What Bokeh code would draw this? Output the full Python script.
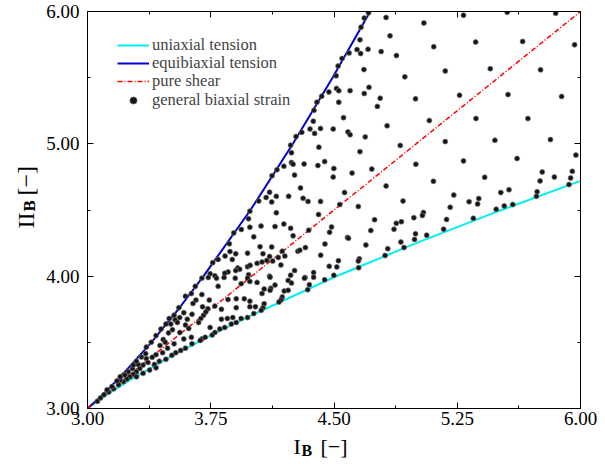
from math import pi
from bokeh.plotting import figure
from bokeh.layouts import row, column
from bokeh.models import (FixedTicker, LinearAxis, Label, Legend, LegendItem, Range1d)
from bokeh.embed import file_html
from bokeh.resources import INLINE

# ---------------- data ----------------
x_ticks = [3.00, 3.75, 4.50, 5.25, 6.00]
x_tick_labels = ["3.00", "3.75", "4.50", "5.25", "6.00"]
x_minor = [3.375, 4.125, 4.875, 5.625]
y_ticks = [3.00, 4.00, 5.00, 6.00]
y_tick_labels = ["3.00", "4.00", "5.00", "6.00"]
y_minor = [3.5, 4.5, 5.5]

# uniaxial tension curve (I_B, II_B)
uni_I = [3.00, 3.10, 3.25, 3.50, 3.75, 4.00, 4.50, 5.00, 5.50, 6.00]
uni_II = [3.00, 3.09, 3.208, 3.389, 3.553, 3.706, 3.992, 4.25, 4.491, 4.72]
# equibiaxial tension curve
equi_I = [3.00, 3.09, 3.208, 3.389, 3.553, 3.706, 3.992, 4.25, 4.491, 4.72]
equi_II = [3.00, 3.10, 3.25, 3.50, 3.75, 4.00, 4.50, 5.00, 5.50, 6.00]
# pure shear
ps_I = [3.00, 6.00]
ps_II = [3.00, 6.00]

# general biaxial strain samples
gb_I = [4.71, 4.817, 4.684, 4.664, 4.841, 4.658, 4.640, 4.662, 4.707, 4.592, 4.787, 4.880,
        4.549, 4.682, 4.525, 4.931, 4.513, 4.515, 4.529, 4.469, 4.598, 4.713, 4.684, 4.425,
        4.529, 4.781, 4.764, 4.996, 4.396, 4.378, 4.558, 4.374, 4.823, 4.304, 4.354, 4.382,
        4.418, 4.495, 4.585, 4.598, 4.690, 4.269,
        5.288, 5.554, 5.849, 5.047, 5.107, 5.362, 5.648, 5.964, 5.177, 5.451, 5.757, 5.264,
        5.559, 5.885, 5.080, 5.364, 5.680, 5.177, 5.479, 5.817,
        4.236, 4.241, 4.408, 4.658, 4.903, 4.241, 4.251, 4.195, 4.318, 4.402, 4.443, 4.499,
        4.495, 4.610, 4.730, 4.260, 4.153, 4.123, 4.296, 4.817, 4.108, 4.087, 4.121, 4.149,
        4.224, 4.312, 4.342, 4.418, 4.564, 4.535, 4.648, 4.920, 4.042, 4.149, 4.406, 4.056,
        4.141, 4.195, 4.236, 4.346, 4.485, 4.473, 4.724, 4.747, 4.879, 4.910, 4.865, 4.986,
        4.996, 4.012, 4.251, 4.582, 4.588, 4.050, 4.121, 4.445, 4.694, 4.827, 4.907, 4.990,
        4.926, 4.068, 4.185, 4.280, 4.292, 4.326, 4.419, 4.201, 4.108, 4.161, 4.091, 4.062,
        4.032, 4.127, 4.177, 4.527, 4.654, 4.648, 4.811, 4.471, 4.517, 4.260, 4.376, 4.324,
        4.236, 4.499, 4.108, 4.650,
        4.998, 5.288, 5.614, 5.972, 5.105, 5.417, 5.767, 5.754, 5.841, 5.950, 5.940, 5.930,
        5.229, 5.515, 5.565, 5.736, 5.732, 5.322, 5.381, 5.374, 5.207, 5.487, 5.536, 5.588,
        5.044, 5.038, 5.185, 5.348, 5.064, 5.167,
        3.988, 3.980, 3.988, 3.936, 3.890, 3.863, 3.867, 3.902, 3.837, 3.881, 3.974, 3.795,
        3.762, 3.914, 3.926, 3.902, 3.974, 3.990, 3.855, 3.835, 3.746, 3.775, 3.980,
        4.032, 4.111, 4.221, 4.241, 4.141, 4.115, 4.111, 4.075, 4.062, 4.197, 4.221, 4.320,
        4.376, 4.350, 4.340, 4.443, 4.022, 4.075, 4.068, 4.185, 4.177, 4.165, 4.012, 4.057,
        3.696, 3.735, 3.785, 3.831, 3.899, 3.974, 3.795, 3.935, 3.988, 3.954, 3.988, 3.905,
        3.855, 3.741, 3.696, 3.660, 3.642, 3.700, 3.732, 3.775, 3.815, 3.905, 3.988, 3.636,
        3.607, 3.586, 3.561, 3.533, 3.507, 3.547, 3.706, 3.720, 3.690, 3.676, 3.596, 3.616,
        3.562, 3.517, 3.493, 3.461, 3.473, 3.441, 3.487, 3.527, 3.586, 3.632, 3.746, 3.815,
        3.851, 3.884, 3.905, 3.805, 3.759, 3.696, 3.636, 3.596, 3.567, 3.537, 3.513, 3.457,
        3.417, 3.394, 3.358, 3.368, 3.338, 3.407, 3.437, 3.477, 3.318, 3.298, 3.279, 3.258,
        3.239, 3.219, 3.189, 3.159, 3.129, 3.298, 3.338, 3.378, 3.417, 3.249, 3.274, 3.308,
        3.219, 3.199, 3.686, 3.716, 3.775, 3.835, 3.875, 3.935, 3.974,
        3.656, 3.596, 3.632, 3.556, 3.527, 3.497, 3.477, 3.447, 3.417, 3.388, 3.358, 3.354,
        3.328, 3.298, 3.279, 3.228, 3.199, 3.179, 3.149, 3.119, 3.100, 3.079, 3.060]
gb_II = [5.99, 5.955, 5.95, 5.881, 5.816, 5.786, 5.712, 5.682, 5.715, 5.687, 5.697, 5.667,
         5.645, 5.561, 5.588, 5.506, 5.514, 5.419, 5.402, 5.392, 5.402, 5.427, 5.380, 5.360,
         5.315, 5.345, 5.283, 5.340, 5.315, 5.253, 5.198, 5.171, 5.136, 5.087, 5.112, 5.079,
         5.116, 5.112, 5.090, 5.069, 5.052, 5.055,
         5.972, 5.995, 5.987, 5.913, 5.734, 5.769, 5.774, 5.749, 5.551, 5.568, 5.559, 5.367,
         5.372, 5.358, 5.176, 5.191, 5.191, 5.017, 5.027, 5.032,
         4.990, 4.933, 4.975, 4.941, 4.988, 4.859, 4.846, 4.831, 4.848, 4.836, 4.866, 4.814,
         4.749, 4.779, 4.809, 4.764, 4.804, 4.759, 4.667, 4.682, 4.635, 4.595, 4.561, 4.603,
         4.603, 4.588, 4.565, 4.565, 4.632, 4.541, 4.526, 4.568, 4.568, 4.479, 4.466, 4.379,
         4.375, 4.394, 4.362, 4.347, 4.372, 4.332, 4.345, 4.427, 4.399, 4.412, 4.355, 4.442,
         4.320, 4.297, 4.305, 4.293, 4.286, 4.223, 4.221, 4.243, 4.236, 4.208, 4.258, 4.278,
         4.216, 4.169, 4.189, 4.189, 4.196, 4.216, 4.159, 4.152, 4.149, 4.141, 4.119, 4.107,
         4.097, 4.114, 4.085, 4.117, 4.131, 4.114, 4.156, 4.074, 4.070, 4.042, 4.027, 3.990,
         4.007, 4.007, 4.000, 4.064,
         4.846, 4.871, 4.889, 4.915, 4.717, 4.747, 4.787, 4.720, 4.749, 4.792, 4.742, 4.692,
         4.613, 4.632, 4.653, 4.638, 4.603, 4.563, 4.586, 4.546, 4.521, 4.506, 4.531, 4.541,
         4.481, 4.459, 4.429, 4.437, 4.310, 4.355,
         4.491, 4.434, 4.370, 4.353, 4.327, 4.245, 4.186, 4.169, 4.152, 4.126, 4.174, 4.126,
         4.102, 4.062, 4.052, 4.042, 4.072, 4.082, 4.032, 4.022, 4.018, 4.003, 4.010,
         3.953, 3.992, 3.968, 3.948, 3.933, 3.908, 3.893, 3.903, 3.869, 3.888, 3.893, 3.985,
         3.992, 3.936, 3.898, 3.973, 3.769, 3.791, 3.762, 3.843, 3.819, 3.804, 3.717, 3.742,
         3.985, 3.990, 3.985, 3.990, 3.985, 3.985, 3.923, 3.943, 3.960, 3.829, 3.811, 3.829,
         3.824, 3.819, 3.861, 3.819, 3.794, 3.769, 3.754, 3.774, 3.750, 3.762, 3.769, 3.712,
         3.675, 3.724, 3.687, 3.670, 3.638, 3.650, 3.705, 3.730, 3.680, 3.650, 3.631, 3.605,
         3.575, 3.596, 3.571, 3.521, 3.501, 3.476, 3.456, 3.489, 3.526, 3.538, 3.613, 3.675,
         3.680, 3.687, 3.650, 3.601, 3.556, 3.526, 3.489, 3.456, 3.439, 3.422, 3.402, 3.422,
         3.407, 3.387, 3.377, 3.348, 3.328, 3.333, 3.357, 3.372, 3.303, 3.278, 3.258, 3.240,
         3.223, 3.203, 3.179, 3.149, 3.124, 3.240, 3.266, 3.290, 3.307, 3.278, 3.303, 3.333,
         3.253, 3.216, 3.514, 3.538, 3.575, 3.613, 3.638, 3.680, 3.687,
         3.923, 3.849, 3.869, 3.762, 3.705, 3.680, 3.638, 3.601, 3.551, 3.501, 3.464, 3.415,
         3.389, 3.357, 3.328, 3.253, 3.240, 3.208, 3.166, 3.141, 3.104, 3.080, 3.054]

legend_labels = ["uniaxial tension", "equibiaxial tension", "pure shear",
                 "general biaxial strain"]
x_title = ("I", "B", "[\u2212]")
y_title = ("II", "B", "[\u2212]")

# ---------------- styling ----------------
SERIF = "Liberation Serif"
CYAN = "#00F0F0"
BLUE = "#0000CC"
RED = "#FF0000"

TOTAL_W = 597
YT_W = 43          # strip holding the vertical axis title
MAIN_W = TOTAL_W - YT_W
MAIN_H = 432
XT_H = 459 - MAIN_H

p = figure(width=MAIN_W, height=MAIN_H, output_backend="svg", toolbar_location=None,
           x_range=Range1d(3.0, 6.0), y_range=Range1d(3.0, 6.0),
           min_border_left=42, min_border_right=17, min_border_top=11,
           min_border_bottom=24, x_axis_location=None, y_axis_location=None)
p.grid.visible = False
p.outline_line_color = "black"
p.outline_line_width = 1
p.background_fill_color = "white"
p.border_fill_color = "white"


def style_axis(ax, ticks, minor, labels, show_labels):
    ax.ticker = FixedTicker(ticks=ticks, minor_ticks=minor)
    ax.major_label_overrides = {t: l for t, l in zip(ticks, labels)}
    ax.major_tick_in = 6
    ax.major_tick_out = 0
    ax.minor_tick_in = 3
    ax.minor_tick_out = 0
    ax.axis_line_color = "black"
    ax.major_tick_line_color = "black"
    ax.minor_tick_line_color = "black"
    ax.major_label_text_font = SERIF
    if show_labels:
        ax.major_label_text_color = "black"
        ax.major_label_text_font_size = "19px"
    else:
        ax.major_label_text_color = None
        ax.major_label_text_font_size = "0px"
        ax.major_label_standoff = 0
        ax.axis_label_standoff = 0


bottom = LinearAxis()
style_axis(bottom, x_ticks, x_minor, x_tick_labels, True)
bottom.major_label_standoff = 3
left = LinearAxis()
style_axis(left, y_ticks, y_minor, y_tick_labels, True)
left.major_label_standoff = 8
top = LinearAxis()
style_axis(top, x_ticks, x_minor, x_tick_labels, False)
right = LinearAxis()
style_axis(right, y_ticks, y_minor, y_tick_labels, False)
p.add_layout(bottom, "below")
p.add_layout(left, "left")
p.add_layout(top, "above")
p.add_layout(right, "right")

r_uni = p.line(uni_I, uni_II, line_color=CYAN, line_width=2)
r_equi = p.line(equi_I, equi_II, line_color=BLUE, line_width=2)
r_ps = p.line(ps_I, ps_II, line_color=RED, line_width=1.5, line_dash="5 2 1 2")
r_gb = p.scatter(gb_I, gb_II, size=5, marker="circle", fill_color="#151515",
                 line_color="#707070", line_width=0.7)

# one legend per row so the rows sit exactly as in the reference
legend_rows = [(r_uni, 353), (r_equi, 335), (r_ps, 317), (r_gb, 298)]
for (rend, ypos), lab in zip(legend_rows, legend_labels):
    lg = Legend(items=[LegendItem(label=lab, renderers=[rend])],
                location=(30, ypos), margin=0, padding=0, spacing=0,
                glyph_width=32, glyph_height=18, label_height=18, label_standoff=3,
                label_text_font=SERIF, label_text_font_size="16.5px",
                border_line_color=None, background_fill_alpha=0)
    p.add_layout(lg, "center")


def title_strip(w, h):
    f = figure(width=w, height=h, output_backend="svg", toolbar_location=None,
               x_range=Range1d(0, 1), y_range=Range1d(0, 1),
               min_border=0, x_axis_location=None, y_axis_location=None)
    f.grid.visible = False
    f.outline_line_color = None
    f.background_fill_color = "white"
    f.border_fill_color = "white"
    return f


lab_kw = dict(x_units="screen", y_units="screen", text_font=SERIF,
              text_color="black", text_baseline="middle", text_align="left")

# horizontal axis title strip (below the plot); y = centre of each text box
xt = title_strip(TOTAL_W, XT_H)
xt.add_layout(Label(x=293, y=13.5, text=x_title[0], text_font_size="22px", **lab_kw))
xt.add_layout(Label(x=301, y=9.5, text=x_title[1], text_font_size="16px",
                    text_font_style="bold", **lab_kw))
xt.add_layout(Label(x=320, y=13.5, text=x_title[2], text_font_size="22px", **lab_kw))

# vertical axis title strip (left of the plot); x = centre of each text box
yt = title_strip(YT_W, MAIN_H)
yt.add_layout(Label(x=25, y=180, text=y_title[0], angle=pi / 2,
                    text_font_size="24px", **lab_kw))
yt.add_layout(Label(x=29, y=197, text=y_title[1], angle=pi / 2, text_font_size="17px",
                    text_font_style="bold", **lab_kw))
yt.add_layout(Label(x=25, y=213, text=y_title[2], angle=pi / 2,
                    text_font_size="24px", **lab_kw))

layout = column(row(yt, p, spacing=0), xt, spacing=0)
open("out.html", "w").write(file_html(layout, INLINE))
